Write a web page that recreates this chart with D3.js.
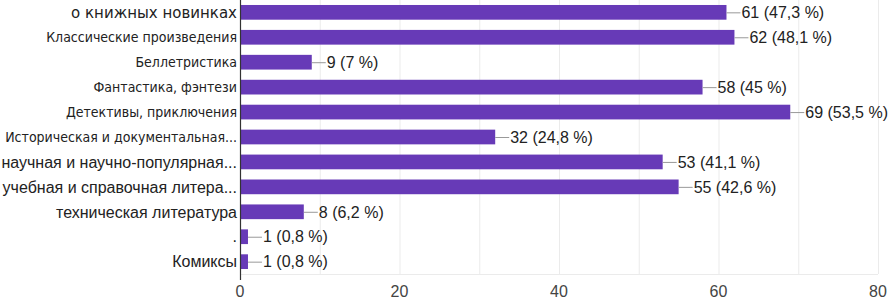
<!DOCTYPE html>
<html>
<head>
<meta charset="utf-8">
<script src="https://cdn.jsdelivr.net/npm/d3@7"></script>
<style>
	body { margin:0; background:#fff; }
	#chart { width:888px; height:299px; }
</style>
</head>
<body>
<div id="chart"></div>
<script>
// data
const categories = [
	"о книжных новинках",
	"Классические произведения",
	"Беллетристика",
	"Фантастика, фэнтези",
	"Детективы, приключения",
	"Историческая и документальная...",
	"научная и научно-популярная...",
	"учебная и справочная литера...",
	"техническая литература",
	".",
	"Комиксы"
];
const counts = [61, 62, 9, 58, 69, 32, 53, 55, 8, 1, 1];
const percents = ["47,3", "48,1", "7", "45", "53,5", "24,8", "41,1", "42,6", "6,2", "0,8", "0,8"];
const xTicks = [0, 20, 40, 60, 80];

function graph(){

	//sizing
	let margin = {top:0, right:10, bottom:25, left:240};
	let width = 888;
	let height = 299;

	let svg = d3.select("#chart")
		.append("svg")
		.attr("width", width)
		.attr("height", height);

	let data = categories.map((c,i)=>({ name:c, value:counts[i], pct:percents[i], idx:i }));

	const xScale = d3.scaleLinear()
		.domain([0,80])
		.range([margin.left, 878]);

	const yScale = d3.scaleBand()
		.domain(categories)
		.range([margin.top, 274])
		.paddingInner(0.41)
		.paddingOuter(0.2);

	// labels come from the form in mixed fonts
	const labelFont = (i)=>{
		if (i===0) return {family:"DejaVu Sans, Verdana, sans-serif", size:15};
		if (i<6) return {family:"DejaVu Sans Condensed, Tahoma, sans-serif", size:14};
		return {family:"Liberation Sans, Arial, sans-serif", size:16};
	};

	//grid
	svg.append("g")
		.selectAll("line")
		.data(d3.range(10,81,10))
		.enter().append("line")
		.attr("x1", d=>xScale(d)+0.5)
		.attr("x2", d=>xScale(d)+0.5)
		.attr("y1", 0)
		.attr("y2", 274)
		.attr("stroke", "#ebebeb")
		.attr("stroke-width", 1);

	svg.append("line")
		.attr("x1", margin.left).attr("x2", 878)
		.attr("y1", 274.5).attr("y2", 274.5)
		.attr("stroke", "#ebebeb");

	//bars
	svg.append("g")
		.selectAll("rect")
		.data(data)
		.enter().append("rect")
		.attr("x", xScale(0))
		.attr("y", d=>yScale(d.name))
		.attr("width", d=>xScale(d.value)-xScale(0))
		.attr("height", yScale.bandwidth())
		.attr("fill", "#673ab7");

	//value labels with leader line
	let lab = svg.append("g").selectAll("g")
		.data(data)
		.enter().append("g")
		.attr("transform", d=>`translate(${xScale(d.value)},${yScale(d.name)+yScale.bandwidth()/2})`);

	lab.append("line")
		.attr("x1", 0).attr("x2", 14)
		.attr("y1", 0.5).attr("y2", 0.5)
		.attr("stroke", "#999");

	lab.append("text")
		.attr("x", 15)
		.attr("dy", "0.36em")
		.attr("font-family", "Liberation Sans, Arial, sans-serif")
		.attr("font-size", 16)
		.attr("fill", "#222")
		.text(d=>`${d.value} (${d.pct} %)`);

	//category labels
	svg.append("g")
		.selectAll("text")
		.data(data)
		.enter().append("text")
		.attr("x", margin.left-3)
		.attr("y", d=>yScale(d.name)+yScale.bandwidth()/2)
		.attr("dy", "0.36em")
		.attr("text-anchor", "end")
		.attr("font-family", d=>labelFont(d.idx).family)
		.attr("font-size", d=>labelFont(d.idx).size)
		.attr("fill", "#222")
		.text(d=>d.name);

	//axis line
	svg.append("line")
		.attr("x1", margin.left+0.5).attr("x2", margin.left+0.5)
		.attr("y1", 0).attr("y2", 280)
		.attr("stroke", "#333")
		.attr("stroke-width", 1.2);

	//x tick labels
	svg.append("g")
		.selectAll("text")
		.data(xTicks)
		.enter().append("text")
		.attr("x", d=>xScale(d))
		.attr("y", 297)
		.attr("text-anchor", "middle")
		.attr("font-family", "Liberation Sans, Arial, sans-serif")
		.attr("font-size", 16)
		.attr("fill", "#444")
		.text(d=>d);

}

graph();
</script>
</body>
</html>
